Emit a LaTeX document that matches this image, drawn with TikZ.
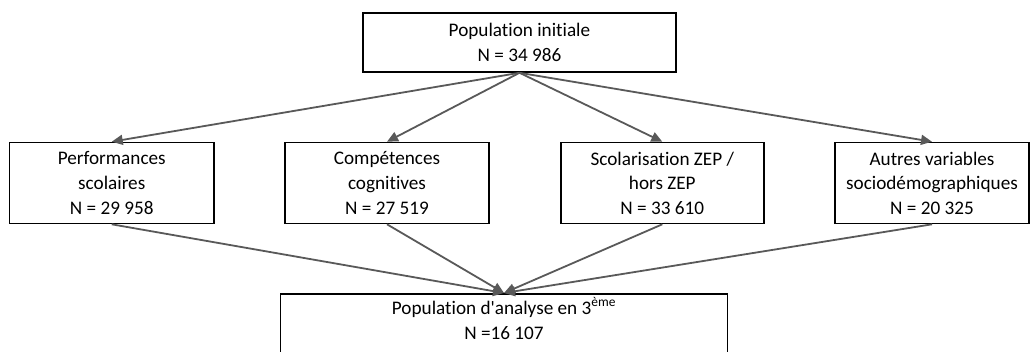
\documentclass[tikz,border=0pt]{standalone}
\usepackage{fontspec}
\setmainfont[Ligatures={NoCommon}]{Carlito}
\usetikzlibrary{arrows.meta}
\definecolor{arrowgrey}{HTML}{595959}
\begin{document}
\begin{tikzpicture}[x=1pt,y=-1pt,
  box/.style={draw=black,line width=1.6pt,fill=white,align=center,inner sep=0pt,
    font=\fontsize{19.2}{24.6}\selectfont},
  conn/.style={draw=arrowgrey,line width=1.8pt,-{Triangle[length=11pt,width=10pt]}}]
\useasboundingbox (0,0) rectangle (1032,351);
\node[box,minimum width=313pt,minimum height=59pt] (top) at (519.5,42.5) {Population initiale\\N = 34 986};
\node[box,minimum width=204.5pt,minimum height=81pt] (b1) at (111.75,183) {Performances\\scolaires\\N = 29 958};
\node[box,minimum width=204pt,minimum height=81pt] (b2) at (387,183) {Compétences\\cognitives\\N = 27 519};
\node[box,minimum width=203pt,minimum height=81pt] (b3) at (662.3,183) {Scolarisation ZEP /\\hors ZEP\\N = 33 610};
\node[box,minimum width=194pt,minimum height=81pt] (b4) at (932,183) {Autres variables\\sociodémographiques\\N = 20 325};
\node[box,minimum width=447pt,anchor=north,inner ysep=4pt,text depth=75pt] (bot) at (504,293) {Population d\textquotesingle analyse en 3\textsuperscript{ème}\\N =16 107};
\foreach \b in {b1,b2,b3,b4} {
  \draw[conn] (top.south) -- (\b.north);
  \draw[conn] (\b.south) -- (bot.north);
}
\end{tikzpicture}
\end{document}
